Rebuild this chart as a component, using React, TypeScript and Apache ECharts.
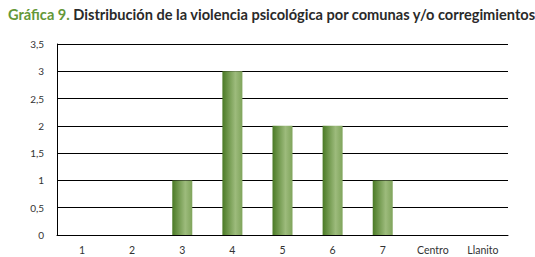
import React, { useEffect, useRef } from "react";
import * as echarts from "echarts";

const categories = ["1", "2", "3", "4", "5", "6", "7", "Centro", "Llanito"];
const values = [0, 0, 1, 3, 2, 2, 1, 0, 0];
const yTicks = { min: 0, max: 3.5, interval: 0.5 };
const titleLead = "Gráfica 9.";
const titleRest = " Distribución de la violencia psicológica por comunas y/o corregimientos";

export default function App() {
  const ref = useRef<HTMLDivElement>(null);
  useEffect(() => {
    if (!ref.current) return;
    const chart = echarts.init(ref.current, null, { renderer: "svg" });
    chart.setOption({
      animation: false,
      backgroundColor: "#ffffff",
      title: {
        text: `{g|${titleLead}}{d|${titleRest}}`,
        left: 3,
        top: 2,
        textStyle: {
          rich: {
            g: { fontFamily: "Lato", fontSize: 14.6, fontWeight: "bold", color: "#649838" },
            d: { fontFamily: "Lato", fontSize: 14.6, fontWeight: "bold", color: "#2a2a2a" },
          },
        },
      },
      grid: { left: 57, right: 27, top: 44, bottom: 22, containLabel: false },
      xAxis: {
        type: "category",
        data: categories,
        axisLine: { show: true, lineStyle: { color: "#000", width: 1 } },
        axisTick: { show: false },
        axisLabel: { color: "#333", fontFamily: "Lato", fontSize: 10.5, margin: 9 },
      },
      yAxis: {
        type: "value",
        min: yTicks.min,
        max: yTicks.max,
        interval: yTicks.interval,
        axisLine: { show: true, lineStyle: { color: "#000", width: 1 } },
        axisTick: { show: false },
        splitLine: { show: true, lineStyle: { color: "#000", width: 1 } },
        axisLabel: {
          color: "#333",
          fontFamily: "Lato",
          fontSize: 10,
          margin: 13,
          formatter: (v: number) => String(v).replace(".", ","),
        },
      },
      series: [
        {
          type: "bar",
          data: values,
          barWidth: 20,
          itemStyle: {
            color: new echarts.graphic.LinearGradient(0, 0, 1, 0, [
              { offset: 0, color: "#4a7a25" },
              { offset: 0.65, color: "#9dbb7c" },
              { offset: 1, color: "#7fa45b" },
            ]),
          },
        },
      ],
    });
    return () => chart.dispose();
  }, []);
  return <div ref={ref} style={{ width: 535, height: 257, position: "absolute", left: 0, top: 0 }} />;
}
